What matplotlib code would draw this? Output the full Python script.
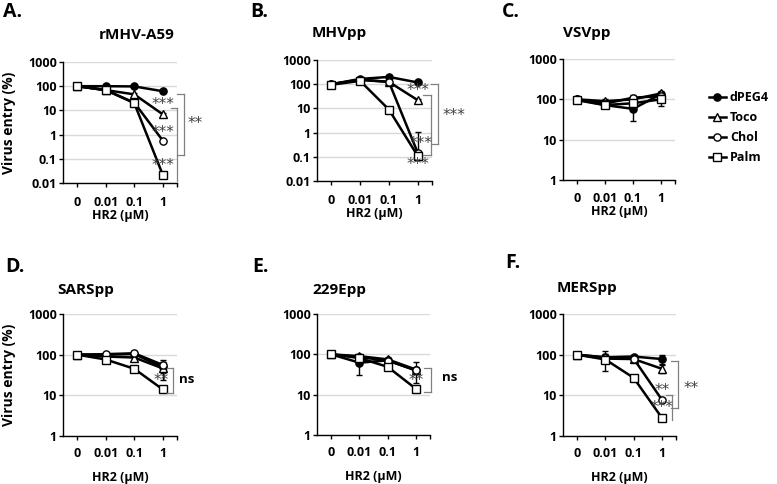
import numpy as np
import matplotlib
matplotlib.use('Agg')
import matplotlib.pyplot as plt

plt.rcParams['font.family'] = ['Open Sans', 'Noto Sans', 'DejaVu Sans']
plt.rcParams['font.weight'] = 'bold'

# ---------------- data ----------------
categories = ['0', '0.01', '0.1', '1']
series = ['dPEG4', 'Toco', 'Chol', 'Palm']
titles = ['rMHV-A59', 'MHVpp', 'VSVpp', 'SARSpp', '229Epp', 'MERSpp']
panel_letters = ['A.', 'B.', 'C.', 'D.', 'E.', 'F.']

rmhv_vals = {'dPEG4': [100, 100, 98, 62], 'Toco': [100, 69, 46, 6.9],
             'Chol': [100, 69, 21, 0.57], 'Palm': [100, 69, 20, 0.022]}
rmhv_errs = {'dPEG4': [5, 5, 5, 5], 'Toco': [5, 5, 5, 0.8],
             'Chol': [5, 5, 2, 0.05], 'Palm': [5, 5, 2, 0.002]}

mhv_vals = {'dPEG4': [100, 165, 200, 118], 'Toco': [100, 155, 125, 22],
            'Chol': [100, 150, 125, 0.15], 'Palm': [95, 137, 9, 0.11]}
mhv_errs = {'dPEG4': [5, 10, 15, 8], 'Toco': [5, 10, 10, 2],
            'Chol': [5, 10, 10, 0.9], 'Palm': [5, 10, 1, 0.01]}

vsv_vals = {'dPEG4': [100, 72, 58, 135], 'Toco': [100, 90, 100, 140],
            'Chol': [100, 78, 110, 120], 'Palm': [95, 72, 80, 100]}
vsv_errs = {'dPEG4': [15, 10, 45, 15], 'Toco': [10, 10, 15, 10],
            'Chol': [10, 8, 15, 10], 'Palm': [10, 8, 10, 30]}

sars_vals = {'dPEG4': [100, 100, 104, 49], 'Toco': [100, 90, 85, 46],
             'Chol': [100, 103, 108, 56], 'Palm': [100, 76, 45, 14]}
sars_errs = {'dPEG4': [5, 8, 10, 25], 'Toco': [5, 8, 10, 10],
             'Chol': [5, 8, 15, 10], 'Palm': [5, 5, 4, 1.5]}

e229_vals = {'dPEG4': [100, 62, 71, 40], 'Toco': [100, 90, 75, 42],
             'Chol': [100, 85, 70, 40], 'Palm': [100, 81, 49, 14]}
e229_errs = {'dPEG4': [5, 42, 10, 25], 'Toco': [5, 8, 8, 6],
             'Chol': [5, 8, 8, 6], 'Palm': [5, 6, 5, 1.5]}

mers_vals = {'dPEG4': [100, 86, 90, 78], 'Toco': [100, 80, 78, 45],
             'Chol': [100, 85, 80, 7.8], 'Palm': [100, 76, 27, 2.8]}
mers_errs = {'dPEG4': [5, 15, 8, 20], 'Toco': [5, 40, 8, 10],
             'Chol': [5, 8, 8, 1], 'Palm': [5, 6, 3, 0.3]}

panel_vals = [rmhv_vals, mhv_vals, vsv_vals, sars_vals, e229_vals, mers_vals]
panel_errs = [rmhv_errs, mhv_errs, vsv_errs, sars_errs, e229_errs, mers_errs]

ylims = [(0.01, 1000), (0.01, 1000), (1, 1000), (1, 1000), (1, 1000), (1, 1000)]
ytick_sets = [[0.01, 0.1, 1, 10, 100, 1000], [0.01, 0.1, 1, 10, 100, 1000],
              [1, 10, 100, 1000], [1, 10, 100, 1000], [1, 10, 100, 1000], [1, 10, 100, 1000]]
ytick_labels = [['0.01', '0.1', '1', '10', '100', '1000'], ['0.01', '0.1', '1', '10', '100', '1000'],
                ['1', '10', '100', '1000'], ['1', '10', '100', '1000'],
                ['1', '10', '100', '1000'], ['1', '10', '100', '1000']]

# significance annotations: (x, y, text)
stars = [
    [(3.0, 18, '***'), (3.0, 1.28, '***'), (3.0, 0.055, '***'), (4.15, 3.0, '**')],
    [(3.0, 57, '***'), (3.1, 0.37, '***'), (3.0, 0.046, '***'), (4.25, 5.3, '***')],
    [],
    [(2.95, 22.6, '**'), (3.85, 24, 'ns')],
    [(3.0, 22.6, '**'), (4.2, 27, 'ns')],
    [(3.0, 12.8, '**'), (3.0, 4.9, '***'), (4.05, 15, '**')],
]
# brackets: (x_vertical, x_tick_end, y_top, y_bottom, top_tick, bottom_tick)
brackets = [
    [(3.75, 3.5, 48, 0.145, True, True), (3.5, 3.3, 12.6, 0.012, True, False)],
    [(3.72, 3.45, 102, 0.34, True, True), (3.45, 3.2, 36, 0.12, True, True)],
    [],
    [(3.36, 3.14, 47, 11.5, True, True)],
    [(3.53, 3.29, 47, 11.5, True, True)],
    [(3.58, 3.33, 70, 4.9, True, True), (3.37, 3.16, 10.2, 2.5, True, False)],
]

# ---------------- layout ----------------
W, H = 777, 484
rects = [(63, 62, 177, 183), (317, 60, 432, 181), (563, 59, 675, 180),
         (63, 314, 177, 436), (317, 314, 430, 435), (563, 314, 676, 436)]
title_pos = [(99, 35), (312, 33), (563, 33), (57, 290), (312, 290), (557, 288)]
letter_pos = [(3, 12), (250, 12), (502, 12), (5, 267), (252, 267), (505, 263)]
tick_pad = [6, 6, 6, 5, 5, 5]
xlabel_pad = [0, 0, 0, 8, 8, 8]

styles = {
    'dPEG4': dict(marker='o', mfc='black', ms=5.2),
    'Toco': dict(marker='^', mfc='white', ms=5.5),
    'Chol': dict(marker='o', mfc='white', ms=5.2),
    'Palm': dict(marker='s', mfc='white', ms=5.5),
}

fig = plt.figure(figsize=(W / 100, H / 100), dpi=100)

def fx(x):
    return x / W

def fy(y):
    return 1 - y / H

x = np.arange(len(categories))
handles = []
for i in range(6):
    l, t, r, b = rects[i]
    ax = fig.add_axes([fx(l), fy(b), (r - l) / W, (b - t) / H])
    ax.set_yscale('log')
    ax.set_ylim(*ylims[i])
    ax.set_xlim(-0.5, 3.5)
    ax.set_yticks(ytick_sets[i])
    ax.set_yticklabels(ytick_labels[i])
    ax.yaxis.set_minor_locator(matplotlib.ticker.NullLocator())
    ax.set_xticks(x)
    ax.set_xticklabels(categories)
    ax.set_xticks([3.5], minor=True)
    ax.tick_params(axis='x', which='both', length=3, width=1, pad=tick_pad[i], labelsize=9)
    ax.tick_params(axis='y', length=3, width=1, pad=1.5, labelsize=9)
    for s in ['top', 'right']:
        ax.spines[s].set_visible(False)
    for s in ['left', 'bottom']:
        ax.spines[s].set_linewidth(1.0)
    ax.yaxis.grid(True, color='#d9d9d9', lw=1)
    ax.set_axisbelow(True)
    ax.set_xlabel('HR2 (μM)', fontsize=9, labelpad=xlabel_pad[i], fontweight='bold')

    vals = panel_vals[i]
    errs = panel_errs[i]
    for k, name in enumerate(series):
        v = np.array(vals[name], dtype=float)
        e = np.array(errs[name], dtype=float)
        lo = np.minimum(e, v * 0.5)
        ax.errorbar(x, v, yerr=[lo, e], fmt='none', ecolor='black', elinewidth=1,
                    capsize=2.5, capthick=1, zorder=2 + k)
        st = styles[name]
        ln, = ax.plot(x, v, color='black', lw=1.8, marker=st['marker'], ms=st['ms'],
                      mfc=st['mfc'], mec='black', mew=1.0, zorder=3 + k, clip_on=False,
                      label=name)
        if i == 2:
            handles.append(ln)

    for (sx, sy, txt) in stars[i]:
        if txt == 'ns':
            ax.text(sx, sy, txt, ha='center', va='center', fontsize=9.5, color='black',
                    clip_on=False, zorder=10)
        else:
            ax.text(sx, sy, txt, ha='center', va='center', fontsize=11, color='#404040',
                    clip_on=False, zorder=10, family='DejaVu Sans', fontweight='normal')
    for (bx, btx, ytop, ybot, ttop, tbot) in brackets[i]:
        ax.plot([bx, bx], [ytop, ybot], color='#808080', lw=0.9, clip_on=False, zorder=9)
        if ttop:
            ax.plot([btx, bx], [ytop, ytop], color='#808080', lw=0.9, clip_on=False, zorder=9)
        if tbot:
            ax.plot([btx, bx], [ybot, ybot], color='#808080', lw=0.9, clip_on=False, zorder=9)

    tx, ty = title_pos[i]
    fig.text(fx(tx), fy(ty), titles[i], ha='left', va='center', fontsize=11,
             fontweight='bold')
    lx, ly = letter_pos[i]
    fig.text(fx(lx), fy(ly), panel_letters[i], ha='left', va='center', fontsize=14,
             fontweight='bold')
    if i in (0, 3):
        ycen = (t + b) / 2
        fig.text(fx(9), fy(ycen), 'Virus entry (%)', rotation=90, ha='center',
                 va='center', fontsize=10, fontweight='bold')

fig.legend(handles, series, loc='upper left', bbox_to_anchor=(fx(698), fy(80)),
           frameon=False, handlelength=1.3, handletextpad=0.35, labelspacing=0.55,
           prop={'size': 9, 'weight': 'bold'})

fig.savefig('out.png', dpi=100)
